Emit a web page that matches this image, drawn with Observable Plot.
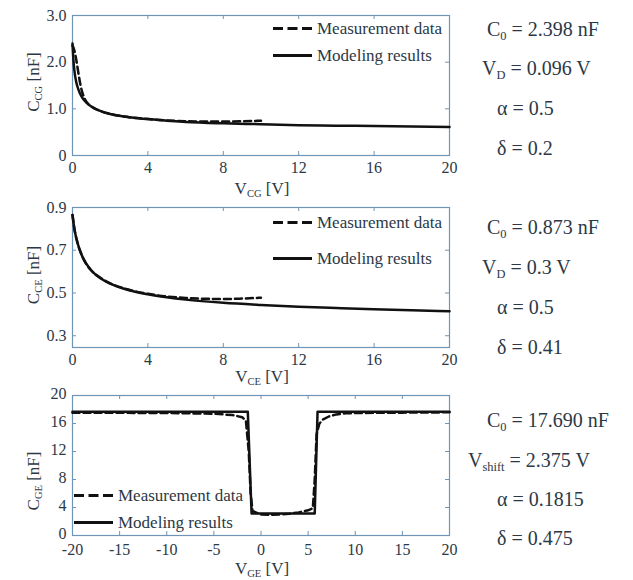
<!DOCTYPE html>
<html><head><meta charset="utf-8">
<script src="https://cdn.jsdelivr.net/npm/d3@7"></script>
<script src="https://cdn.jsdelivr.net/npm/@observablehq/plot@0.6"></script>
<style>
body{margin:0;background:#fff;}
#wrap{position:relative;width:633px;height:580px;background:#fff;font-family:'Liberation Serif','DejaVu Serif',serif;color:#2c3845;overflow:hidden}
.abs{position:absolute;white-space:nowrap;line-height:1;font-family:'Liberation Serif','DejaVu Serif',serif}
.plot{position:absolute;left:0}
.plot text{font-family:'Liberation Serif','DejaVu Serif',serif}
sub{font-size:0.62em;vertical-align:baseline;position:relative;top:0.32em}
.param{font-size:20px;transform:translateY(-50%)}
.leg{font-size:17px;transform:translateY(-50%);display:flex;align-items:center}
.leg svg{margin-right:5px}
.axl{font-size:17px}
</style></head><body><div id="wrap"></div>
<script>
// ---------- data ----------
const xTicks1 = [0, 4, 8, 12, 16, 20];
const xTickLabels1 = ["0", "4", "8", "12", "16", "20"];
const yTicks1 = [0, 1, 2, 3];
const yTickLabels1 = ["0", "1.0", "2.0", "3.0"];
const cgModelV = [0, 0.05, 0.1, 0.2, 0.3, 0.5, 0.75, 1, 1.5, 2, 3, 4, 5, 6, 8, 10, 12, 14, 16, 18, 20];
const cgModelC = [2.40, 2.04, 1.82, 1.57, 1.43, 1.25, 1.13, 1.05, 0.95, 0.89, 0.82, 0.78, 0.745, 0.72, 0.69, 0.67, 0.65, 0.64, 0.63, 0.62, 0.61];
const cgMeasV = [0, 0.1, 0.2, 0.3, 0.4, 0.5, 0.6, 0.8, 1, 1.5, 2, 3, 4, 5, 6, 7, 8, 9, 10];
const cgMeasC = [2.36, 2.25, 2.05, 1.80, 1.56, 1.38, 1.26, 1.12, 1.05, 0.95, 0.89, 0.82, 0.78, 0.75, 0.735, 0.728, 0.728, 0.733, 0.745];

const xTicks2 = [0, 4, 8, 12, 16, 20];
const xTickLabels2 = ["0", "4", "8", "12", "16", "20"];
const yTicks2 = [0.3, 0.5, 0.7, 0.9];
const yTickLabels2 = ["0.3", "0.5", "0.7", "0.9"];
const ceModelV = [0, 0.1, 0.25, 0.5, 0.75, 1, 1.5, 2, 3, 4, 5, 6, 8, 10, 12, 14, 16, 18, 20];
const ceModelC = [0.865, 0.80, 0.74, 0.675, 0.635, 0.605, 0.568, 0.544, 0.513, 0.494, 0.480, 0.469, 0.454, 0.444, 0.436, 0.430, 0.424, 0.419, 0.415];
const ceMeasV = [0, 0.1, 0.25, 0.5, 1, 1.5, 2, 3, 4, 5, 6, 7, 8, 9, 10];
const ceMeasC = [0.865, 0.80, 0.74, 0.675, 0.605, 0.57, 0.545, 0.515, 0.496, 0.484, 0.477, 0.473, 0.472, 0.474, 0.478];

const xTicks3 = [-20, -15, -10, -5, 0, 5, 10, 15, 20];
const xTickLabels3 = ["-20", "-15", "-10", "-5", "0", "5", "10", "15", "20"];
const yTicks3 = [0, 4, 8, 12, 16, 20];
const yTickLabels3 = ["0", "4", "8", "12", "16", "20"];
const geModelV = [-20, -1.4, -1.0, 5.7, 6.0, 20];
const geModelC = [17.69, 17.69, 3.15, 3.15, 17.69, 17.69];
const geMeasV = [-20, -10, -5, -3, -2, -1.6, -1.3, -1.1, -0.9, 0, 1, 2, 3, 4, 5, 5.5, 5.7, 5.9, 6.2, 6.6, 7.2, 8, 9, 10, 15, 20];
const geMeasC = [17.55, 17.5, 17.4, 17.2, 16.9, 16.4, 12, 6, 3.5, 3.0, 2.95, 3.0, 3.1, 3.3, 3.6, 3.9, 8, 14.5, 16.0, 16.6, 17.0, 17.3, 17.45, 17.5, 17.55, 17.6];

const legendLabels = ["Measurement data", "Modeling results"];
const params1 = ["C<sub>0</sub> = 2.398 nF", "V<sub>D</sub> = 0.096 V", "α = 0.5", "δ = 0.2"];
const params2 = ["C<sub>0</sub> = 0.873 nF", "V<sub>D</sub> = 0.3 V", "α = 0.5", "δ = 0.41"];
const params3 = ["C<sub>0</sub> = 17.690 nF", "V<sub>shift</sub> = 2.375 V", "α = 0.1815", "δ = 0.475"];
const xLabels = ["V<sub>CG</sub> [V]", "V<sub>CE</sub> [V]", "V<sub>GE</sub> [V]"];
const yLabels = ["C<sub>CG</sub> [nF]", "C<sub>CE</sub> [nF]", "C<sub>GE</sub> [nF]"];

// ---------- drawing ----------
const frameColor = "#6f95b6";
const textColor = "#2c3845";
const ink = "#111111";
const serif = "'Liberation Serif', 'DejaVu Serif', serif";
const wrap = document.getElementById("wrap");
const zip = (V, C) => V.map((v, i) => ({v, c: C[i]}));

function panel({top, xDomain, yDomain, xTicks, xTickLabels, yTicks, yTickLabels, model, meas, curve, xPad = 6, yDy = 0}) {
  const tick = 4;
  const p = Plot.plot({
    width: 455, height: 195,
    marginLeft: 72, marginRight: 6, marginTop: 15, marginBottom: 40,
    style: {fontFamily: serif, fontSize: "16px", color: textColor, background: "transparent", overflow: "visible"},
    x: {domain: xDomain},
    y: {domain: yDomain},
    marks: [
      Plot.frame({stroke: frameColor, strokeWidth: 1.2}),
      Plot.ruleX(xTicks, {x: d => d, y1: yDomain[0], y2: yDomain[0], insetTop: -tick, stroke: frameColor}),
      Plot.ruleX(xTicks, {x: d => d, y1: yDomain[1], y2: yDomain[1], insetBottom: -tick, stroke: frameColor}),
      Plot.ruleY(yTicks, {y: d => d, x1: xDomain[0], x2: xDomain[0], insetRight: -tick, stroke: frameColor}),
      Plot.ruleY(yTicks, {y: d => d, x1: xDomain[1], x2: xDomain[1], insetLeft: -tick, stroke: frameColor}),
      Plot.axisX(xTicks, {tickSize: 0, tickPadding: xPad, label: null, fontSize: 16, fill: textColor, fontFamily: serif,
        tickFormat: d => xTickLabels[xTicks.indexOf(d)]}),
      Plot.axisY(yTicks, {tickSize: 0, tickPadding: 6, label: null, fontSize: 16, fill: textColor, fontFamily: serif, dy: yDy,
        tickFormat: d => yTickLabels[yTicks.indexOf(d)]}),
      Plot.line(meas, {x: "v", y: "c", stroke: ink, strokeWidth: 2.5, strokeDasharray: "7,4", curve}),
      Plot.line(model, {x: "v", y: "c", stroke: ink, strokeWidth: 2.5, curve})
    ]
  });
  p.classList.add("plot");
  p.style.top = top + "px";
  wrap.appendChild(p);
}

function addText(html, cls, left, top, extraStyle = "") {
  const d = document.createElement("div");
  d.className = "abs " + cls;
  d.innerHTML = html;
  d.style.left = left + "px";
  d.style.top = top + "px";
  if (extraStyle) d.style.cssText += extraStyle;
  wrap.appendChild(d);
  return d;
}

function legend(left, y1, y2) {
  const dashed = `<svg width="39" height="6"><line x1="0" y1="3" x2="39" y2="3" stroke="${ink}" stroke-width="3" stroke-dasharray="10,4.5"/></svg>`;
  const solid = `<svg width="39" height="6"><line x1="0" y1="3" x2="39" y2="3" stroke="${ink}" stroke-width="3"/></svg>`;
  addText(dashed + "<span>" + legendLabels[0] + "</span>", "leg", left, y1);
  addText(solid + "<span>" + legendLabels[1] + "</span>", "leg", left, y2);
}

function params(lines, lefts, ys) {
  lines.forEach((t, i) => addText(t, "param", lefts[i], ys[i]));
}

panel({top: 0, xDomain: [0, 20], yDomain: [0, 3], xTicks: xTicks1, xTickLabels: xTickLabels1,
  yTicks: yTicks1, yTickLabels: yTickLabels1, model: zip(cgModelV, cgModelC), meas: zip(cgMeasV, cgMeasC), curve: "monotone-x"});
panel({top: 192, xDomain: [0, 20], yDomain: [0.245, 0.9], xTicks: xTicks2, xTickLabels: xTickLabels2,
  yTicks: yTicks2, yTickLabels: yTickLabels2, model: zip(ceModelV, ceModelC), meas: zip(ceMeasV, ceMeasC), curve: "monotone-x"});
panel({top: 380, xDomain: [-20, 20], yDomain: [0, 20], xTicks: xTicks3, xTickLabels: xTickLabels3,
  yTicks: yTicks3, yTickLabels: yTickLabels3, model: zip(geModelV, geModelC), meas: zip(geMeasV, geMeasC), curve: "linear",
  xPad: 8, yDy: -2});

// axis labels
const xlY = [188, 376, 568];
const ylY = [82, 275, 481];
xlY.forEach((y, i) => addText(xLabels[i], "axl", 262, y, "transform:translate(-50%,-50%)"));
ylY.forEach((y, i) => addText(yLabels[i], "axl", 33, y, "transform:translate(-50%,-50%) rotate(-90deg)"));

// legends
legend(273, 28, 55);
legend(273, 222, 258);
legend(74, 495, 522);

// parameters
params(params1, [487, 482, 497, 497], [29, 68, 108, 148]);
params(params2, [487, 482, 497, 497], [227, 267, 307, 347]);
params(params3, [487, 468, 497, 497], [420, 460, 499, 538]);
</script></body></html>
